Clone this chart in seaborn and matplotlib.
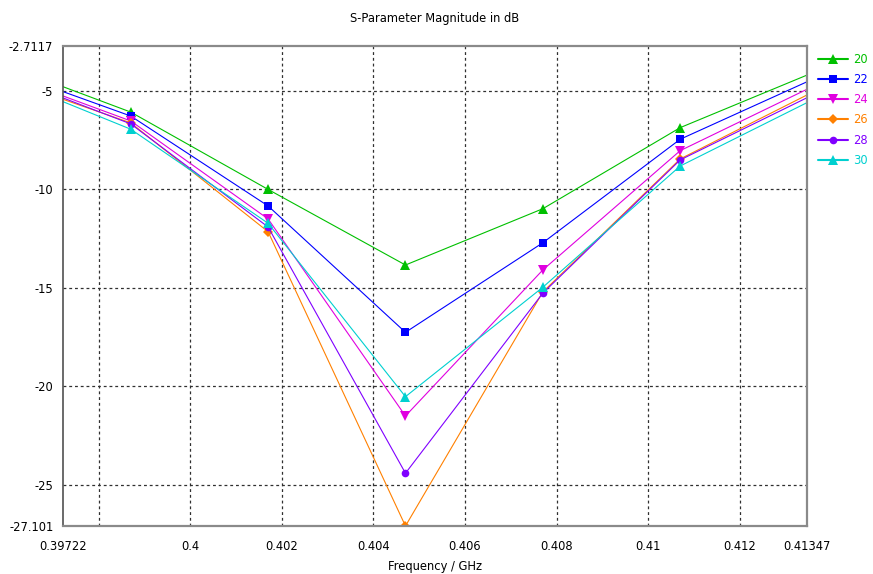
import matplotlib
matplotlib.use("Agg")
import matplotlib.pyplot as plt
import seaborn as sns
import pandas as pd

# Frequency samples (GHz) and S11 magnitude (dB) for each parameter value
freq = [0.39722, 0.3987, 0.4017, 0.4047, 0.4077, 0.4107, 0.41347]
s20 = [-4.78, -6.07, -10.0, -13.84, -10.98, -6.86, -4.19]
s22 = [-5.03, -6.27, -10.84, -17.26, -12.71, -7.45, -4.53]
s24 = [-5.25, -6.52, -11.5, -21.51, -14.09, -8.03, -4.91]
s26 = [-5.42, -6.62, -12.15, -27.101, -15.21, -8.45, -5.20]
s28 = [-5.35, -6.67, -11.91, -24.42, -15.27, -8.50, -5.34]
s30 = [-5.54, -6.94, -11.72, -20.53, -14.97, -8.81, -5.59]

labels = ["20", "22", "24", "26", "28", "30"]
series = [s20, s22, s24, s26, s28, s30]

x_ticks = [0.39722, 0.398, 0.4, 0.402, 0.404, 0.406, 0.408, 0.41, 0.412, 0.41347]
x_ticklabels = ["0.39722", "", "0.4", "0.402", "0.404", "0.406", "0.408", "0.41", "0.412", "0.41347"]
y_ticks = [-27.101, -25, -20, -15, -10, -5, -2.7117]
y_ticklabels = ["-27.101", "-25", "-20", "-15", "-10", "-5", "-2.7117"]

colors = ["#00c000", "#0000ff", "#e000e0", "#ff8000", "#8000ff", "#00d0d0"]
markers = ["^", "s", "v", "D", "o", "^"]
msizes = [6.5, 5.5, 6.5, 5.0, 5.5, 6.5]

sns.set_theme(style="white")
plt.rcParams["font.family"] = ["DejaVu Sans"]

W, H = 873, 574
fig = plt.figure(figsize=(W / 100, H / 100), dpi=100)
fig.patch.set_facecolor("white")
ax = fig.add_axes([63 / W, 1 - 526 / H, 744 / W, 480 / H])
ax.set_facecolor("white")

df = pd.DataFrame({"freq": freq})
for lab, vals in zip(labels, series):
    df[lab] = vals

for lab, col, mk, ms in zip(labels, colors, markers, msizes):
    sns.lineplot(data=df, x="freq", y=lab, ax=ax, color=col, linewidth=0.8,
                 marker=mk, markersize=ms, markeredgewidth=0,
                 markevery=[1, 2, 3, 4, 5], label=lab, sort=False,
                 estimator=None, clip_on=True)

ax.set_xlim(0.39722, 0.41347)
ax.set_ylim(-27.101, -2.7117)
ax.set_xticks(x_ticks)
ax.set_xticklabels(x_ticklabels)
ax.set_yticks(y_ticks)
ax.set_yticklabels(y_ticklabels)
ax.tick_params(axis="both", direction="inout", length=8, width=0.8,
               color="#505050", labelsize=8.3, labelcolor="black", pad=3)
ax.tick_params(axis="x", pad=6)

# dashed grid on the inner ticks only
for xv in x_ticks[1:-1]:
    ax.axvline(xv, color="#303030", linewidth=0.9, linestyle=(0, (2.3, 2.3)), zorder=0.5)
for yv in y_ticks[1:-1]:
    ax.axhline(yv, color="#303030", linewidth=0.9, linestyle=(0, (2.3, 2.3)), zorder=0.5)

for side in ["top", "right", "bottom"]:
    ax.spines[side].set_color("#8a8a8a")
    ax.spines[side].set_linewidth(1.6)
ax.spines["left"].set_color("#505050")
ax.spines["left"].set_linewidth(1.2)

ax.set_title("S-Parameter Magnitude in dB", fontsize=8.3, color="black", pad=17)
ax.set_xlabel("Frequency / GHz", fontsize=8.3, color="black", labelpad=5)
ax.set_ylabel("")

leg = ax.legend(loc="upper left", bbox_to_anchor=(818 / W, 1 - 53 / H),
                bbox_transform=fig.transFigure, frameon=False, fontsize=8.3,
                handlelength=2.6, handletextpad=0.45, labelspacing=0.62,
                borderpad=0, borderaxespad=0)
for txt, col in zip(leg.get_texts(), colors):
    txt.set_color(col)
for h in leg.legend_handles:
    h.set_linewidth(1.5)

fig.savefig("out.png", dpi=100, facecolor="white")
